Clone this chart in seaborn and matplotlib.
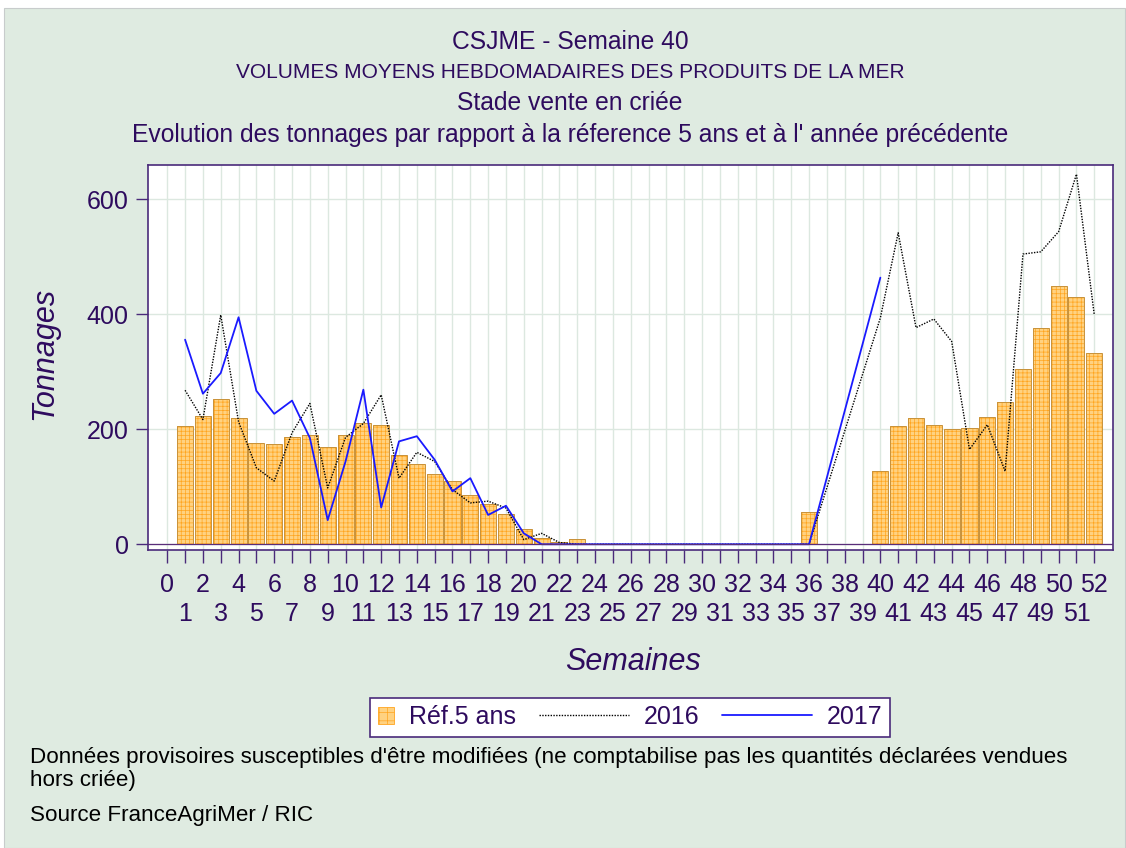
import numpy as np
import pandas as pd
import matplotlib
matplotlib.use("Agg")
import matplotlib.pyplot as plt
import seaborn as sns
from matplotlib.patches import Patch, Rectangle
from matplotlib.lines import Line2D
from matplotlib.legend_handler import HandlerPatch

# ---------------- data ----------------
weeks = list(range(1, 53))
ref5 = [206, 223, 252, 220, 177, 174, 187, 190, 169, 190, 211, 208, 156, 140,
        123, 110, 85, 70, 53, 26, 11, 4, 9,
        0, 0, 0, 0, 0, 0, 0, 0, 0, 0, 0, 0,
        56, 0, 0, 0,
        128, 205, 220, 208, 201, 203, 222, 248, 305, 377, 449, 430, 332]
y2016 = [268, 217, 399, 213, 133, 110, 194, 245, 98, 186, 210, 260, 115, 160,
         144, 95, 72, 75, 63, 8, 19, 3,
         0, 0, 0, 0, 0, 0, 0, 0, 0, 0, 0, 0, 0, 0,
         np.nan, np.nan, np.nan,
         394, 542, 377, 392, 353, 165, 208, 127, 505, 509, 544, 644, 399]
y2017 = [356, 262, 298, 395, 267, 227, 250, 185, 42, 144, 269, 64, 179, 188,
         147, 92, 115, 51, 67, 19,
         0, 0, 0, 0, 0, 0, 0, 0, 0, 0, 0, 0, 0, 0, 0, 0,
         np.nan, np.nan, np.nan,
         464]
yticks = [0, 200, 400, 600]
xtick_labels = [str(i) for i in range(0, 53)]

title_lines = ["CSJME - Semaine 40",
               "VOLUMES MOYENS HEBDOMADAIRES DES PRODUITS DE LA MER",
               "Stade vente en criée",
               "Evolution des tonnages par rapport à la réference 5 ans et à l' année précédente"]
footer1 = "Données provisoires susceptibles d'être modifiées (ne comptabilise pas les quantités déclarées vendues\nhors criée)"
footer2 = "Source FranceAgriMer / RIC"

# ---------------- style ----------------
sns.set_style("white")
plt.rcParams['font.family'] = ['Liberation Sans', 'DejaVu Sans']
plt.rcParams['hatch.linewidth'] = 0.5

PURPLE = '#2E0B5E'
SPINE = '#4A2A7A'
BG = '#DFEBE1'
GRID = '#DCE8E0'
BAR_FACE = '#FFD281'
BAR_HATCH = '#FFA51F'
BAR_EDGE = '#C8923A'
BLUE = '#1A1AFF'

W, H = 1126, 848
fig = plt.figure(figsize=(W / 100, H / 100), dpi=100)
fig.patch.set_facecolor('white')
fig.patches.append(Rectangle((4 / W, 0), 1 - 5 / W, 1 - 8 / H, transform=fig.transFigure,
                             facecolor=BG, edgecolor='#C8CCCC', linewidth=0.8, zorder=-10))

ax = fig.add_axes([148 / W, 1 - 550 / H, (1113 - 148) / W, (550 - 165) / H])
ax.set_facecolor('white')

df_bar = pd.DataFrame({'week': weeks, 'ref': ref5})
sns.barplot(data=df_bar, x='week', y='ref', native_scale=True, width=0.9,
            color=BAR_FACE, saturation=1, edgecolor=BAR_HATCH, linewidth=0,
            hatch='++++', ax=ax, zorder=2)
sns.barplot(data=df_bar, x='week', y='ref', native_scale=True, width=0.9,
            fill=False, color=BAR_EDGE, linewidth=0.7, ax=ax, zorder=3)

d16 = pd.DataFrame({'week': weeks, 'val': y2016}).dropna()
d17 = pd.DataFrame({'week': weeks[:len(y2017)], 'val': y2017}).dropna()
sns.lineplot(data=d16, x='week', y='val', color='black', linewidth=1.0,
             linestyle=(0, (1, 1)), estimator=None, ax=ax, zorder=4)
sns.lineplot(data=d17, x='week', y='val', color=BLUE, linewidth=1.3,
             estimator=None, ax=ax, zorder=5)

ax.axhline(0, color='#5A2D7A', linewidth=0.9, zorder=6)

ax.set_xlim(-1.08, 53.05)
ax.set_ylim(-10, 660)

# ticks
ax.set_yticks(yticks)
ax.set_yticklabels([str(v) for v in yticks])
ax.set_xticks(list(range(0, 53, 2)))
ax.set_xticklabels(xtick_labels[0::2])
ax.set_xticks(list(range(1, 53, 2)), minor=True)
ax.set_xticklabels(xtick_labels[1::2], minor=True)
ax.tick_params(axis='x', which='major', length=9, width=1, color=SPINE, pad=7.5,
               labelsize=18, labelcolor=PURPLE, direction='out', bottom=True)
ax.tick_params(axis='x', which='minor', length=9, width=1, color=SPINE, pad=28.5,
               labelsize=18, labelcolor=PURPLE, direction='out', bottom=True)
ax.tick_params(axis='y', which='major', length=9, width=1, color=SPINE, pad=5,
               labelsize=18, labelcolor=PURPLE, direction='out', left=True)

ax.grid(True, axis='x', which='both', color=GRID, linewidth=1.0, zorder=0)
ax.grid(True, axis='y', which='major', color=GRID, linewidth=1.0, zorder=0)
ax.set_axisbelow(True)

for s in ax.spines.values():
    s.set_visible(True)
    s.set_color(SPINE)
    s.set_linewidth(1.2)

ax.set_xlabel('Semaines', fontsize=22, style='italic', color=PURPLE)
ax.xaxis.set_label_coords(0.5026, (550 - 662) / 385)
ax.xaxis.label.set_va('center')
ax.set_ylabel('Tonnages', fontsize=22, style='italic', color=PURPLE)
ax.yaxis.set_label_coords((44 - 148) / 965, (550 - 353) / 385)
ax.yaxis.label.set_va('center')

# titles
ys = [42, 73, 103, 135]
sizes = [17.7, 15, 17.7, 17.7]
for t, yy, sz in zip(title_lines, ys, sizes):
    fig.text(570 / W, 1 - yy / H, t, ha='center', va='center', fontsize=sz, color=PURPLE)

# legend
class SquareHandler(HandlerPatch):
    def legend_artist(self, legend, orig_handle, fontsize, handlebox):
        handlebox.width = 12
        return super().legend_artist(legend, orig_handle, fontsize, handlebox)

def square(legend, orig_handle, xdescent, ydescent, width, height, fontsize):
    s = 12
    return Rectangle((-xdescent, -ydescent + (height - s) / 2), s, s)

h_ref = Patch(facecolor=BAR_FACE, edgecolor=BAR_HATCH, hatch='++', linewidth=0.6, label='Réf.5 ans')
h16 = Line2D([], [], color='black', linewidth=1.0, linestyle=(0, (1, 1)), label='2016')
h17 = Line2D([], [], color=BLUE, linewidth=1.3, label='2017')
leg = fig.legend(handles=[h_ref, h16, h17], ncol=3, loc='center',
                 bbox_to_anchor=(630 / W, 1 - 717 / H), fontsize=18,
                 frameon=True, fancybox=False, edgecolor=SPINE, facecolor='white',
                 framealpha=1, handlelength=3.6, handletextpad=0.6, columnspacing=0.9,
                 borderpad=0.3, borderaxespad=0,
                 handler_map={Patch: SquareHandler(patch_func=square)})
leg.get_frame().set_linewidth(1.2)
for t in leg.get_texts():
    t.set_color(PURPLE)

# footer
fig.text(30 / W, 1 - 747 / H, footer1, ha='left', va='top', fontsize=16.1,
         color='black', linespacing=1.1)
fig.text(30 / W, 1 - 815 / H, footer2, ha='left', va='center', fontsize=16.1, color='black')

fig.savefig('out.png', dpi=100, facecolor=fig.get_facecolor())
